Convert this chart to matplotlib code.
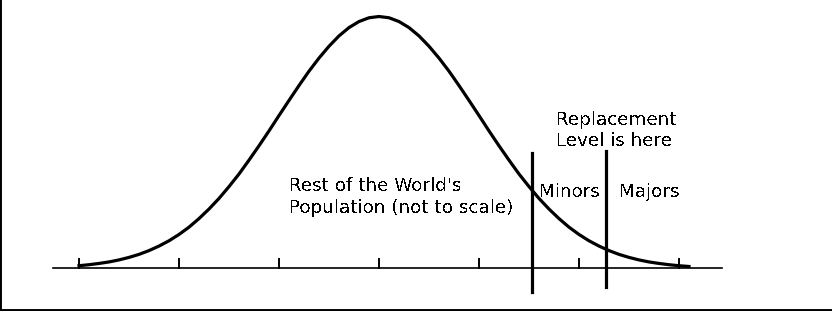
import matplotlib
matplotlib.use('Agg')
import matplotlib.pyplot as plt

plt.rcParams['text.antialiased'] = False

# bell curve (x in tick units, height relative to peak)
curve_x = [-3.0, -2.9, -2.8, -2.7, -2.6, -2.5, -2.4, -2.3, -2.2, -2.1,
           -2.0, -1.9, -1.8, -1.7, -1.6, -1.5, -1.4, -1.3, -1.2, -1.1,
           -1.0, -0.9, -0.8, -0.7, -0.6, -0.5, -0.4, -0.3, -0.2, -0.1,
           0.0, 0.1, 0.2, 0.3, 0.4, 0.5, 0.6, 0.7, 0.8, 0.9,
           1.0, 1.1, 1.2, 1.3, 1.4, 1.5, 1.6, 1.7, 1.8, 1.9,
           2.0, 2.1, 2.2, 2.3, 2.4, 2.5, 2.6, 2.7, 2.8, 2.9,
           3.0, 3.1]
curve_y = [0.011, 0.015, 0.020, 0.026, 0.034, 0.044, 0.056, 0.071, 0.089, 0.110,
           0.135, 0.164, 0.198, 0.236, 0.278, 0.325, 0.375, 0.430, 0.487, 0.546,
           0.607, 0.667, 0.726, 0.783, 0.835, 0.882, 0.923, 0.956, 0.980, 0.995,
           1.000, 0.995, 0.980, 0.956, 0.923, 0.882, 0.835, 0.783, 0.726, 0.667,
           0.607, 0.546, 0.487, 0.430, 0.375, 0.325, 0.278, 0.236, 0.198, 0.164,
           0.135, 0.110, 0.089, 0.071, 0.056, 0.044, 0.034, 0.026, 0.020, 0.015,
           0.011, 0.008]

tick_positions = [-3, -2, -1, 0, 1, 2, 3]
minors_x = 1.53
majors_x = 2.27

fig = plt.figure(figsize=(8.32, 3.11), dpi=100)
ax = fig.add_axes([0, 0, 1, 1])
ax.set_xlim(-3.79, 4.53)
ax.set_ylim(-0.1687, 1.0655)
ax.set_xticks([])
ax.set_yticks([])
ax.spines['top'].set_visible(False)
ax.spines['right'].set_visible(False)
ax.spines['left'].set_linewidth(2.8)
ax.spines['bottom'].set_linewidth(2.8)

# baseline and ticks
ax.plot([-3.26, 3.43], [0, 0], color='black', lw=1.2)
for t in tick_positions:
    ax.plot([t, t], [0, 0.036], color='black', lw=1.4)

ax.plot(curve_x, curve_y, color='black', lw=2.3, solid_joinstyle='round')

# cutoff lines
ax.plot([minors_x, minors_x], [-0.093, 0.458], color='black', lw=2.3)
ax.plot([majors_x, majors_x], [-0.073, 0.466], color='black', lw=2.3)

fs = 13.2
ax.text(-0.90, (268.5 - 191) / 252, "Rest of the World's", fontsize=fs, va='baseline')
ax.text(-0.90, (268.5 - 213) / 252, "Population (not to scale)", fontsize=fs, va='baseline')
ax.text(1.60, (268.5 - 197) / 252, "Minors", fontsize=fs, va='baseline')
ax.text(2.40, (268.5 - 197) / 252, "Majors", fontsize=fs, va='baseline')
ax.text(1.77, (268.5 - 125) / 252, "Replacement", fontsize=fs, va='baseline')
ax.text(1.77, (268.5 - 146) / 252, "Level is here", fontsize=fs, va='baseline')

fig.savefig('out.png', dpi=100)
